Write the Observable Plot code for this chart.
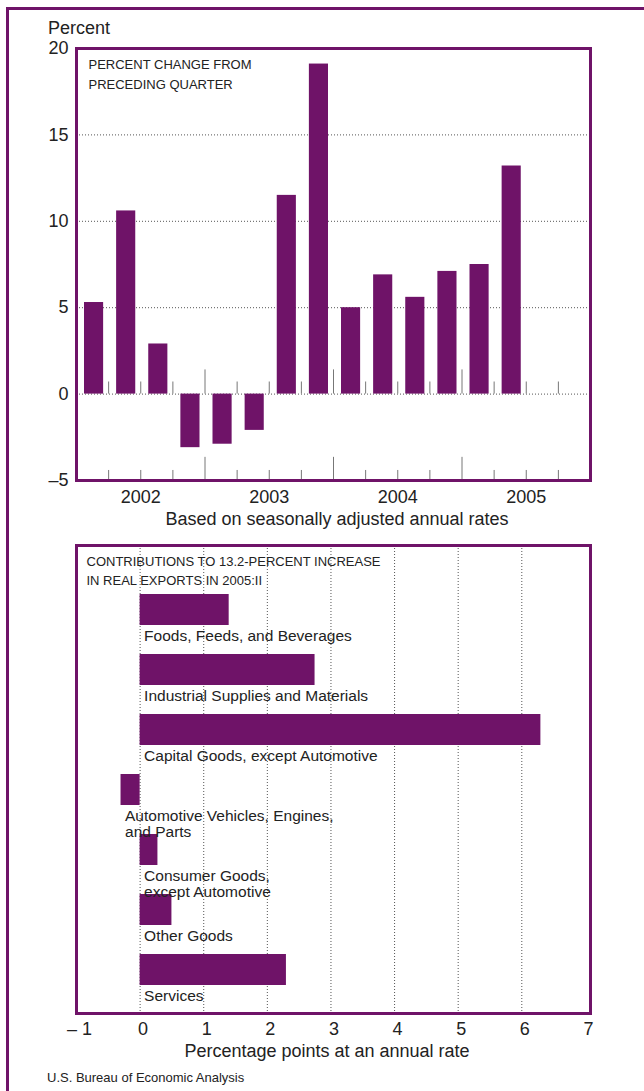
<!DOCTYPE html>
<html>
<head>
<meta charset="utf-8">
<script src="https://cdn.jsdelivr.net/npm/d3@7"></script>
<script src="https://cdn.jsdelivr.net/npm/@observablehq/plot@0.6"></script>
<style>
  html, body { margin: 0; padding: 0; background: #fff; }
  body { font-family: 'Liberation Sans', Arial, Helvetica, sans-serif; color: #222; }
  #wrap { position: relative; width: 644px; height: 1091px; overflow: hidden; }
  .abs { position: absolute; white-space: nowrap; line-height: 1; }
  .line { position: absolute; background: #6f1368; }
</style>
</head>
<body>
<div id="wrap"></div>
<script>
// ---- Data ----
const quarterLabels = ["2002:I","2002:II","2002:III","2002:IV","2003:I","2003:II","2003:III","2003:IV","2004:I","2004:II","2004:III","2004:IV","2005:I","2005:II"];
const percentChange = [5.3, 10.6, 2.9, -3.1, -2.9, -2.1, 11.5, 19.1, 5.0, 6.9, 5.6, 7.1, 7.5, 13.2];
const yearLabels = ["2002","2003","2004","2005"];
const yTicks = [-5, 0, 5, 10, 15, 20];

const categories = [
  "Foods, Feeds, and Beverages",
  "Industrial Supplies and Materials",
  "Capital Goods, except Automotive",
  "Automotive Vehicles, Engines,\nand Parts",
  "Consumer Goods,\nexcept Automotive",
  "Other Goods",
  "Services"
];
const contributions = [1.4, 2.75, 6.3, -0.3, 0.28, 0.5, 2.3];
const xTicks = [-1, 0, 1, 2, 3, 4, 5, 6, 7];

const topTitle = "PERCENT CHANGE FROM\nPRECEDING QUARTER";
const bottomTitle = "CONTRIBUTIONS TO 13.2-PERCENT INCREASE\nIN REAL EXPORTS IN 2005:II";

// ---- Derived tables ----
const roman = {I: 1, II: 2, III: 3, IV: 4};
const quarterRows = quarterLabels.map((q, i) => {
  const [yr, rn] = q.split(":");
  return {t: (+yr - 2002) * 4 + roman[rn] - 1, v: percentChange[i]};
});
const boundaries = d3.range(1, 16);
const contribRows = categories.map((c, i) => ({c, v: contributions[i]}));

const purple = "#6f1368";
const font = "'Liberation Sans', Arial, Helvetica, sans-serif";
const dash = d => d < 0 ? "\u2013" + (-d) : String(d);

const wrap = document.getElementById("wrap");

// ---- Top chart ----
const chart1 = Plot.plot({
  width: 644, height: 510,
  marginTop: 48, marginLeft: 76, marginRight: 54, marginBottom: 30,
  style: {background: "transparent", fontFamily: font, fontSize: "18px", color: "#222"},
  x: {domain: [0, 16]},
  y: {domain: [-5, 20]},
  marks: [
    Plot.ruleY([5, 10, 15], {stroke: "#555", strokeDasharray: "1,2"}),
    Plot.ruleY([0], {stroke: "#555", strokeDasharray: "1,2"}),
    Plot.ruleX(boundaries, {x: d => d, y1: -5, y2: d => d % 4 === 0 ? -3.66 : -4.42, stroke: "#777"}),
    Plot.ruleX(boundaries, {x: d => d, y1: 0, y2: d => d % 4 === 0 ? 1.4 : 0.7, stroke: "#777"}),
    Plot.rectY(quarterRows, {x1: "t", x2: d => d.t + 1, y1: 0, y2: "v", insetLeft: 8, insetRight: 5, fill: purple}),
    Plot.axisY(yTicks, {tickSize: 0, tickPadding: 8, tickFormat: dash, fontSize: 18, label: null}),
    Plot.axisX([2, 6, 10, 14], {tickSize: 0, tickPadding: 10, tickFormat: d => yearLabels[(d - 2) / 4], fontSize: 18, label: null}),
    Plot.text([topTitle], {frameAnchor: "top-left", dx: 12, dy: 7, lineAnchor: "top", textAnchor: "start", fontSize: 13, lineHeight: 1.5, fill: "#222"}),
    Plot.frame({stroke: purple, strokeWidth: 3})
  ]
});
chart1.style.position = "absolute";
chart1.style.left = "0px";
chart1.style.top = "0px";
wrap.appendChild(chart1);

// ---- Bottom chart ----
const chart2 = Plot.plot({
  width: 644, height: 543,
  marginTop: 45, marginLeft: 76, marginRight: 54, marginBottom: 30,
  style: {background: "transparent", fontFamily: font, fontSize: "18px", color: "#222"},
  x: {domain: [-1, 7.08]},
  y: {type: "band", domain: categories, range: [94, 489], paddingInner: 0.49, paddingOuter: 0, align: 0, axis: null},
  marks: [
    Plot.ruleX(d3.range(0, 7), {x: d => d, stroke: "#555", strokeDasharray: "1,2"}),
    Plot.barX(contribRows, {x1: 0, x2: "v", y: "c", fill: purple}),
    Plot.text(contribRows, {x: d => Math.min(0, d.v), y: "c", text: "c", textAnchor: "start", lineAnchor: "top", dx: 4, dy: 20, fontSize: 15.5, lineHeight: 1.0, fill: "#222"}),
    Plot.axisX(xTicks, {tickSize: 0, tickPadding: 9, dx: 3, tickFormat: d => d < 0 ? "\u2013 " + (-d) : String(d), fontSize: 18, label: null}),
    Plot.text([bottomTitle], {frameAnchor: "top-left", dx: 10, dy: 7, lineAnchor: "top", textAnchor: "start", fontSize: 13, lineHeight: 1.46, fill: "#222"}),
    Plot.frame({stroke: purple, strokeWidth: 3})
  ]
});
chart2.style.position = "absolute";
chart2.style.left = "0px";
chart2.style.top = "500px";
wrap.appendChild(chart2);

// ---- Text outside the SVGs ----
function addText(txt, opts) {
  const d = document.createElement("div");
  d.className = "abs";
  d.textContent = txt;
  Object.assign(d.style, opts);
  wrap.appendChild(d);
  return d;
}
addText("Percent", {left: "48px", top: "19px", fontSize: "18px"});
addText("Based on seasonally adjusted annual rates", {left: "337px", top: "510px", fontSize: "18px", transform: "translateX(-50%)"});
addText("Percentage points at an annual rate", {left: "327px", top: "1042px", fontSize: "18px", transform: "translateX(-50%)"});
addText("U.S. Bureau of Economic Analysis", {left: "47px", top: "1071px", fontSize: "13px"});

// ---- Outer border ----
const borderTop = document.createElement("div");
borderTop.className = "line";
Object.assign(borderTop.style, {left: "6px", top: "7px", width: "640px", height: "3px"});
wrap.appendChild(borderTop);
const borderLeft = document.createElement("div");
borderLeft.className = "line";
Object.assign(borderLeft.style, {left: "6px", top: "7px", width: "3px", height: "1090px"});
wrap.appendChild(borderLeft);
</script>
</body>
</html>
